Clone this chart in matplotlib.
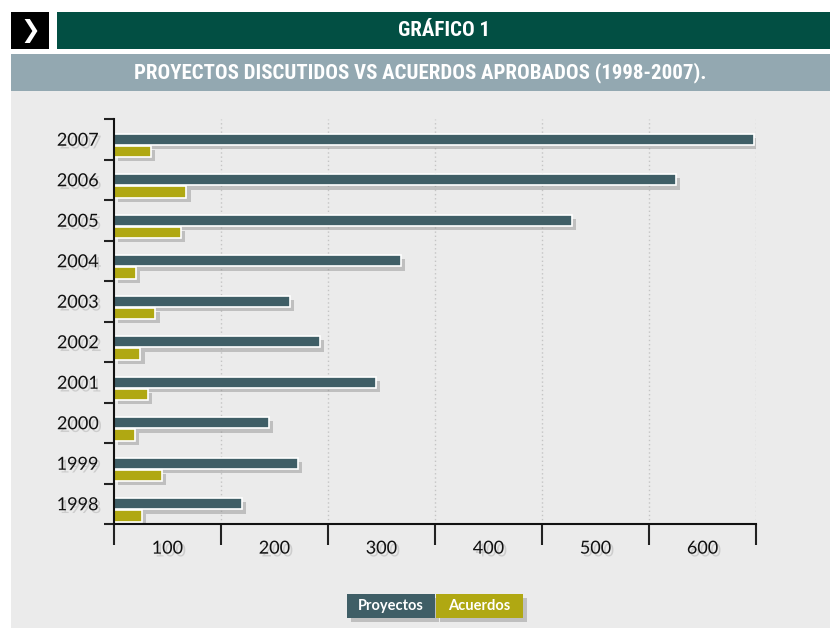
import matplotlib
matplotlib.use("Agg")
import matplotlib.pyplot as plt
import matplotlib.patheffects as pe
from matplotlib.patches import Rectangle
import numpy as np

years = ["1998", "1999", "2000", "2001", "2002", "2003", "2004", "2005", "2006", "2007"]
proyectos = [120, 172, 145, 245, 193, 165, 268, 428, 525, 598]
acuerdos = [26, 45, 20, 32, 25, 39, 21, 63, 68, 35]
x_ticks = [0, 100, 200, 300, 400, 500, 600]
x_label_pos = [50, 150, 250, 350, 450, 550]
x_labels = ["100", "200", "300", "400", "500", "600"]

W, H = 830, 628
fig = plt.figure(figsize=(W / 100, H / 100), dpi=100)
fig.patch.set_facecolor("white")

def fx(px):
    return px / W

def fy(py):
    return 1 - py / H

title_font = ["Roboto Condensed", "Liberation Sans Narrow", "Roboto", "DejaVu Sans"]
body_font = ["Lato", "DejaVu Sans"]

# header blocks
for (x0, y0, x1, y1, col) in [(11, 12, 49, 49, "black"), (57, 12, W, 49, "#024f43"),
                              (11, 54, W, 91, "#93a8b1"), (11, 91, W, H, "#ebebeb")]:
    fig.patches.append(Rectangle((fx(x0), fy(y1)), fx(x1 - x0), (y1 - y0) / H, transform=fig.transFigure,
                                 facecolor=col, edgecolor="none", zorder=-5))

fig.text(fx(30), fy(31), "\u276F", color="white", fontsize=17, fontweight="bold",
         family=["DejaVu Sans"], ha="center", va="center")
fig.text(fx(444), fy(31), "GRÁFICO 1", color="white", fontsize=15, fontweight="bold",
         fontstretch="condensed", family=title_font, ha="center", va="center")
fig.text(fx(420), fy(73), "PROYECTOS DISCUTIDOS VS ACUERDOS APROBADOS (1998-2007).", color="white",
         fontsize=15, fontweight="bold", fontstretch="condensed", family=title_font,
         ha="center", va="center")

# axes
left, right, top, bottom = 113.7, 756, 119, 524
ax = fig.add_axes([fx(left), fy(bottom), fx(right - left), (bottom - top) / H], zorder=2)
ax.set_facecolor("none")

y = np.arange(len(years))
bar_h = 0.28
shadow = [pe.SimplePatchShadow(offset=(3, -3), shadow_rgbFace="#8a8a8a", alpha=0.45), pe.Normal()]
bp = ax.barh(y, proyectos, height=bar_h, color="#3f5e66", edgecolor="white", linewidth=1.2, zorder=3)
ba = ax.barh(y - 0.30, acuerdos, height=bar_h, color="#b0a812", edgecolor="white", linewidth=1.2, zorder=3)
for r in list(bp) + list(ba):
    r.set_path_effects(shadow)

ax.set_xlim(0, 600)
ax.set_ylim(-0.5, 9.5)

for s in ["top", "right"]:
    ax.spines[s].set_visible(False)
for s in ["left", "bottom"]:
    ax.spines[s].set_linewidth(1.5)
    ax.spines[s].set_color("#111111")
    ax.spines[s].set_zorder(4)

txt_shadow = [pe.withSimplePatchShadow(offset=(2, -2), shadow_rgbFace="#888888", alpha=0.3)]

# x axis: long ticks at 0..600, labels between ticks
ax.set_xticks(x_ticks)
ax.set_xticklabels([""] * len(x_ticks))
ax.tick_params(axis="x", which="major", direction="out", length=15, width=1.5, color="#222222")
ax.set_xticks(x_label_pos, minor=True)
ax.set_xticklabels(x_labels, minor=True)
ax.tick_params(axis="x", which="minor", length=0, pad=12, labelsize=13, labelcolor="#111111")
for t in ax.get_xticklabels(minor=True):
    t.set_family(body_font)
    t.set_path_effects(txt_shadow)

# y axis: ticks at boundaries, labels at centres
ax.set_yticks(np.arange(-0.5, 10, 1.0))
ax.set_yticklabels([""] * 11)
ax.tick_params(axis="y", which="major", direction="out", length=7, width=1.5, color="#222222")
ax.set_yticks(y, minor=True)
ax.set_yticklabels(years, minor=True)
ax.tick_params(axis="y", which="minor", length=0, pad=11, labelsize=13, labelcolor="#111111")
for t in ax.get_yticklabels(minor=True):
    t.set_family(body_font)
    t.set_path_effects(txt_shadow)

for xv in x_ticks[1:]:
    ax.axvline(xv, color="#c4c4c4", linestyle=(0, (1, 2)), linewidth=1, zorder=1)

# legend boxes
leg_y0, leg_y1 = 594, 618
for (x0, x1, col, lab) in [(347, 435, "#3f5e66", "Proyectos"), (436, 523, "#b0a812", "Acuerdos")]:
    rect = Rectangle((fx(x0), fy(leg_y1)), fx(x1 - x0), (leg_y1 - leg_y0) / H, transform=fig.transFigure,
                     facecolor=col, edgecolor="none", zorder=2)
    rect.set_path_effects([pe.SimplePatchShadow(offset=(3, -3), shadow_rgbFace="#8a8a8a", alpha=0.45), pe.Normal()])
    fig.patches.append(rect)
    fig.text(fx((x0 + x1) / 2), fy((leg_y0 + leg_y1) / 2), lab, color="white", fontsize=10.5,
             fontweight="bold", family=body_font, ha="center", va="center", zorder=3)

fig.savefig("out.png", dpi=100, facecolor=fig.get_facecolor())
